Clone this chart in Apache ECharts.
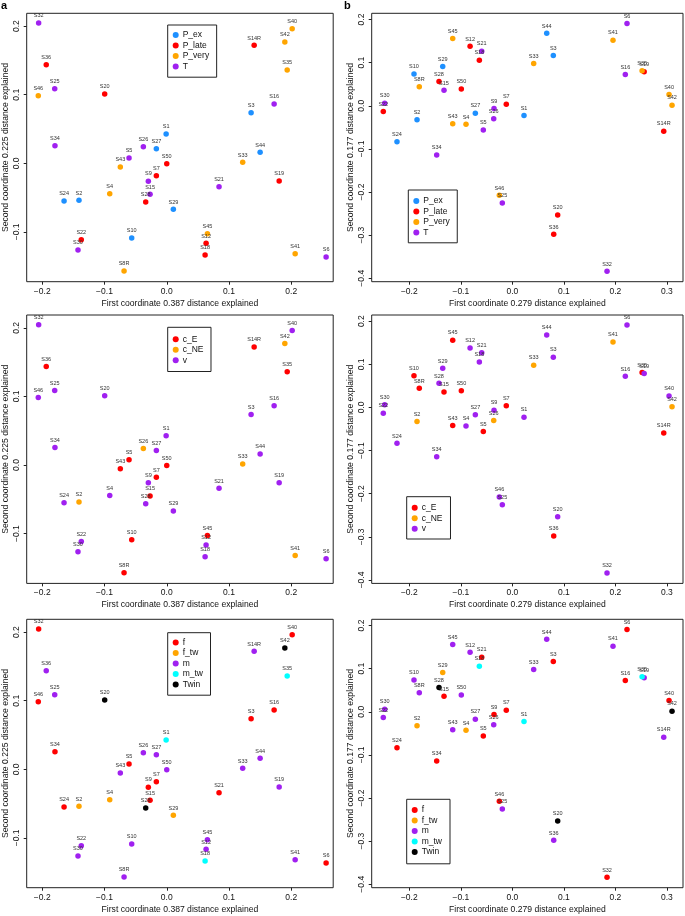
<!DOCTYPE html>
<html>
<head>
<meta charset="utf-8">
<script src="https://cdn.jsdelivr.net/npm/echarts@6/dist/echarts.min.js"></script>
<style>
html,body{margin:0;padding:0;background:#fff;}
#c{width:685px;height:916px;}
</style>
</head>
<body>
<div id="c"></div>
<script>
// ---------- data ----------
const samples = ['S1','S2','S3','S4','S5','S6','S7','S8R','S9','S10','S12','S14R','S15','S16','S18','S19','S20','S21','S22','S24','S25','S26','S27','S28','S29','S30','S32','S33','S34','S35','S36','S40','S41','S42','S43','S44','S45','S46','S50'];

// PCoA panel a (left column)
const aX = [-0.001,-0.141,0.1355,-0.0916,-0.0606,0.256,-0.0167,-0.0686,-0.0296,-0.0563,0.0632,0.1404,-0.0268,0.1725,0.0616,0.1806,-0.0997,0.084,-0.1373,-0.165,-0.180,-0.0376,-0.0167,-0.0338,0.0106,-0.1426,-0.2058,0.122,-0.1796,0.1935,-0.1936,0.2015,0.2063,0.1897,-0.0746,0.150,0.0653,-0.2064,0.0];
const aY = [0.0427,-0.054,0.0738,-0.0443,0.0077,-0.1366,-0.018,-0.157,-0.026,-0.1089,-0.1166,0.172,-0.0452,0.0864,-0.1337,-0.0258,0.101,-0.034,-0.1114,-0.055,0.1087,0.0242,0.0213,-0.0564,-0.067,-0.1264,0.2045,0.0015,0.0257,0.136,0.1437,0.196,-0.132,0.177,-0.0054,0.016,-0.1026,0.0985,-0.0006];

// PCoA panel b (right column)
const bX = [0.0227,-0.185,0.0796,-0.0899,-0.0563,0.2227,-0.0117,-0.1806,-0.0355,-0.1909,-0.082,0.294,-0.1326,0.2194,-0.064,0.256,0.0881,-0.0594,-0.2505,-0.2239,-0.0194,-0.0361,-0.0718,-0.1423,-0.1351,-0.2478,0.1839,0.0415,-0.1468,0.252,0.0804,0.3043,0.1955,0.3101,-0.1157,0.0668,-0.1157,-0.0252,-0.099];
const bY = [-0.0226,-0.0326,0.1165,-0.0429,-0.056,0.191,0.0037,0.0443,-0.0063,0.0737,0.138,-0.059,0.0357,0.0723,0.1056,0.079,-0.2534,0.1266,-0.0133,-0.0832,-0.2254,-0.0303,-0.0172,0.056,0.0909,0.0061,-0.384,0.098,-0.1142,0.081,-0.298,0.0263,0.152,0.0014,-0.042,0.168,0.156,-0.2075,0.0387];

// groupings for each row
const group1 = ['P_ex','P_ex','P_ex','P_very','T','T','P_late','P_very','T','P_ex','P_late','P_late','T','T','P_late','P_late','P_late','T','P_late','P_ex','T','T','P_ex','P_late','P_ex','T','T','P_very','T','P_very','P_late','P_very','P_very','P_very','P_very','P_ex','P_very','P_very','P_late'];
const group2 = ['v','c_NE','v','v','c_E','v','c_E','c_E','v','c_E','v','c_E','c_E','v','v','v','v','v','v','v','v','c_NE','v','v','v','v','v','c_NE','v','c_E','c_E','v','c_NE','c_NE','c_E','v','c_E','v','c_E'];
const group3 = ['m_tw','f_tw','f','f_tw','f','f','f','m','f','m','m','m','f','f','m_tw','m','Twin','f','m','f','m','m','m','Twin','f_tw','m','f','m','f','m_tw','m','f','m','Twin','m','m','m','f','m'];

const levels1 = ['P_ex','P_late','P_very','T'];
const levels2 = ['c_E','c_NE','v'];
const levels3 = ['f','f_tw','m','m_tw','Twin'];

const aXTicks = [-0.2,-0.1,0.0,0.1,0.2];
const aYTicks = [-0.1,0.0,0.1,0.2];
const bXTicks = [-0.2,-0.1,0.0,0.1,0.2,0.3];
const bYTicks = [-0.4,-0.3,-0.2,-0.1,0.0,0.1,0.2];

const aXName = 'First coordinate 0.387 distance explained';
const aYName = 'Second coordinate 0.225 distance explained';
const bXName = 'First coordinate 0.279 distance explained';
const bYName = 'Second coordinate 0.177 distance explained';

// ---------- styling ----------
const colors = {
  P_ex:'#1E90FF', P_late:'#FF0000', P_very:'#FFA500', T:'#A020F0',
  c_E:'#FF0000', c_NE:'#FFA500', v:'#A020F0',
  f:'#FF0000', f_tw:'#FFA500', m:'#A020F0', m_tw:'#00FFFF', Twin:'#000000'
};
const FONT = '"Liberation Sans", Arial, Helvetica, sans-serif';
const rows = [
  {groups: group1, levels: levels1},
  {groups: group2, levels: levels2},
  {groups: group3, levels: levels3}
];
const rowTop = [13.3, 315, 619.3];
const gridH = 268.4;
const colDef = [
  {left: 26.7, width: 306.5, X: aX, Y: aY, xt: aXTicks, yt: aYTicks, xmin:-0.225, xmax:0.2674, ymin:-0.1726, ymax:0.2187, xn:aXName, yn:aYName},
  {left: 371.7, width: 311.3, X: bX, Y: bY, xt: bXTicks, yt: bYTicks, xmin:-0.273, xmax:0.3314, ymin:-0.408, ymax:0.2144, xn:bXName, yn:bYName}
];

function fmt(v){ const s = Math.abs(v).toFixed(1); return (v < -1e-9 ? '\u2212' : '') + s; }

const grids = [], xAxes = [], yAxes = [], series = [];
let idx = 0;
for (let r = 0; r < 3; r++) {
  for (let c = 0; c < 2; c++) {
    const cd = colDef[c];
    grids.push({left: cd.left, top: rowTop[r], width: cd.width, height: gridH, show: true, borderColor: '#222', borderWidth: 1, backgroundColor: 'transparent'});
    xAxes.push({
      type: 'value', gridIndex: idx, min: cd.xmin, max: cd.xmax, position: 'bottom',
      splitLine: {show: false}, axisLine: {show: false, onZero: false},
      axisTick: {show: true, length: 3, customValues: cd.xt, lineStyle: {color: '#222'}},
      axisLabel: {customValues: cd.xt, formatter: fmt, fontSize: 8.5, color: '#111', fontFamily: FONT, margin: 5},
      name: cd.xn, nameLocation: 'middle', nameGap: 17, nameTextStyle: {fontSize: 8.6, color: '#111', fontFamily: FONT}
    });
    yAxes.push({
      type: 'value', gridIndex: idx, min: cd.ymin, max: cd.ymax, position: 'left',
      splitLine: {show: false}, axisLine: {show: false, onZero: false},
      axisTick: {show: true, length: 3, customValues: cd.yt, lineStyle: {color: '#222'}},
      axisLabel: {customValues: cd.yt, formatter: fmt, fontSize: 8.5, color: '#111', fontFamily: FONT, rotate: 90, margin: 6},
      name: cd.yn, nameLocation: 'middle', nameGap: 16.5, nameTextStyle: {fontSize: 8.6, color: '#111', fontFamily: FONT}
    });
    const row = rows[r];
    row.levels.forEach(lv => {
      const data = [];
      samples.forEach((s, i) => { if (row.groups[i] === lv) data.push({name: s, value: [cd.X[i], cd.Y[i]]}); });
      series.push({
        type: 'scatter', name: lv, xAxisIndex: idx, yAxisIndex: idx, data: data,
        symbol: 'circle', symbolSize: 5.5, itemStyle: {color: colors[lv], opacity: 1},
        label: {show: true, position: 'top', distance: 1.5, formatter: p => p.name, fontSize: 5.5, color: '#333', fontFamily: FONT},
        emphasis: {disabled: true}, silent: true
      });
    });
    idx++;
  }
}

// legends
const legendPos = [
  [{left:167.7, top:25, pad:[4.7,7.5,5.5,5]}, {left:408.3, top:190, pad:[5.8,7.5,5,5]}],
  [{left:167.7, top:327.3, pad:[6.7,7.5,6,5]}, {left:406.7, top:496.7, pad:[5.8,8,5,5]}],
  [{left:167.7, top:632.7, pad:[4.5,7.5,5.5,5]}, {left:406.7, top:799.3, pad:[5.5,8,6.5,5]}]
];
const legends = [];
for (let r = 0; r < 3; r++) {
  for (let c = 0; c < 2; c++) {
    const lp = legendPos[r][c];
    legends.push({
      orient: 'vertical', left: lp.left, top: lp.top, padding: lp.pad,
      data: rows[r].levels.map(n => ({name: n, icon: 'circle'})),
      itemWidth: 6, itemHeight: 6, itemGap: 0,
      textStyle: {fontSize: 8.5, lineHeight: 10.5, color: '#111', fontFamily: FONT, padding: [0,0,0,-1]},
      borderColor: '#222', borderWidth: 1, backgroundColor: '#fff', selectedMode: false
    });
  }
}

const chart = echarts.init(document.getElementById('c'), null, {renderer: 'canvas'});
chart.setOption({
  animation: false,
  backgroundColor: '#fff',
  grid: grids, xAxis: xAxes, yAxis: yAxes, series: series, legend: legends,
  graphic: [
    {type: 'text', left: 1, top: 0, style: {text: 'a', font: 'bold 11px ' + FONT, fill: '#000'}},
    {type: 'text', left: 344, top: 0, style: {text: 'b', font: 'bold 11px ' + FONT, fill: '#000'}}
  ]
});
</script>
</body>
</html>
